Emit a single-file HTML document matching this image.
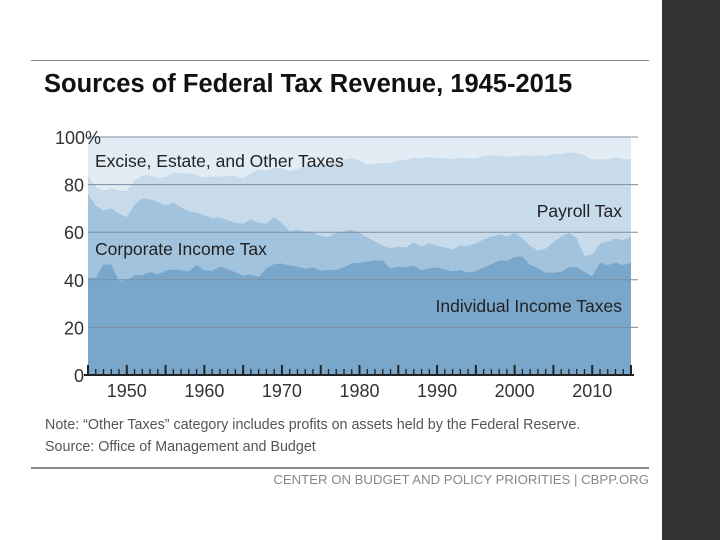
<!DOCTYPE html>
<html><head><meta charset="utf-8"><style>
body{margin:0;width:720px;height:540px;background:#fff;position:relative;overflow:hidden;font-family:"Liberation Sans",sans-serif}
.t{position:absolute;white-space:nowrap}
</style></head><body>
<div style="position:absolute;left:662px;top:0;width:58px;height:540px;background:#333"></div>
<div style="position:absolute;left:31px;top:60px;width:618px;height:1px;background:#888"></div>
<div class="t" style="left:44px;top:70px;font-size:25.5px;font-weight:bold;color:#111">Sources of Federal Tax Revenue, 1945-2015</div>
<svg id="chart" width="720" height="540" style="position:absolute;left:0;top:0"></svg>
<div class="t" style="left:45px;top:417px;font-size:14.3px;color:#555">Note: “Other Taxes” category includes profits on assets held by the Federal Reserve.</div>
<div class="t" style="left:45px;top:439px;font-size:14.3px;color:#555">Source: Office of Management and Budget</div>
<div style="position:absolute;left:31px;top:467px;width:618px;height:2px;background:#888"></div>
<div class="t" style="right:71px;top:472px;font-size:13.2px;color:#888">CENTER ON BUDGET AND POLICY PRIORITIES | CBPP.ORG</div>
<script>
const years=[];for(let y=1945;y<=2015;y++)years.push(y);
const individual=[40.7,41.0,46.6,46.5,39.5,39.9,41.9,42.2,43.4,42.4,43.9,44.5,44.1,43.6,46.4,44.0,43.8,45.7,44.7,43.2,41.8,42.4,41.3,44.9,46.7,46.9,46.1,45.7,44.7,45.2,43.9,44.2,44.3,45.3,47.0,47.2,47.7,48.2,48.1,44.8,45.6,45.4,46.0,44.1,45.0,45.2,44.4,43.6,44.2,43.1,43.7,45.2,46.7,48.1,48.1,49.6,49.9,46.3,44.9,43.0,43.1,43.4,45.3,45.4,43.5,41.5,47.4,46.2,47.4,46.2,47.4];
const corporate=[35.4,30.2,22.6,23.6,28.4,26.5,29.7,32.1,30.5,30.3,27.3,28.0,26.5,25.2,21.8,23.2,22.2,20.6,20.3,20.9,21.8,23.0,22.8,18.7,19.6,17.0,14.3,15.5,15.7,14.7,14.6,13.9,15.4,15.0,14.2,12.5,10.2,8.0,6.2,8.5,8.4,8.2,9.8,10.0,10.4,9.1,9.3,9.2,10.2,11.2,11.6,11.8,11.5,11.0,10.1,10.2,7.6,8.0,7.4,10.1,12.9,14.7,14.4,12.1,6.6,9.0,7.9,9.9,10.0,10.6,10.6];
const payroll=[7.6,7.9,8.4,8.4,9.6,11.0,10.0,9.7,9.9,10.3,12.0,12.5,14.2,15.8,15.9,15.9,17.4,17.1,18.6,19.5,19.1,19.5,22.3,22.2,20.9,23.0,25.3,25.4,27.3,28.5,30.3,30.5,29.9,30.3,30.0,30.5,30.5,32.6,34.8,35.9,36.1,36.9,35.5,36.8,36.3,36.8,37.5,37.9,37.1,36.7,35.8,35.0,34.1,33.2,33.5,32.2,34.9,37.8,40.0,39.0,36.9,34.8,33.9,35.7,42.3,40.0,35.5,34.5,34.2,33.9,32.8];
const yTicks=[0,20,40,60,80,100];
const xLabels=[1950,1960,1970,1980,1990,2000,2010];
const X=y=>88+(y-1945)*(631-88)/70;
const Y=v=>375-v*(375-137)/100;
const svg=document.getElementById('chart');const NS='http://www.w3.org/2000/svg';
function mk(t,a){const e=document.createElementNS(NS,t);for(const k in a)e.setAttribute(k,a[k]);svg.appendChild(e);return e;}
const c1=individual,c2=individual.map((v,i)=>v+corporate[i]),c3=c2.map((v,i)=>v+payroll[i]),c4=years.map(()=>100);
function band(lo,hi,fill,name){let d='M'+years.map((y,i)=>X(y)+','+Y(hi[i])).join('L');for(let i=years.length-1;i>=0;i--)d+='L'+X(years[i])+','+Y(lo?lo[i]:0);d+='Z';const p=mk('path',{d:d,fill:fill});

}
band(c3,c4,'#e2ecf5','area-other-taxes');
band(c2,c3,'#c8dbeb','area-payroll-tax');
band(c1,c2,'#a2c3dd','area-corporate-tax');
band(null,c1,'#79a7cc','area-individual-tax');
yTicks.forEach(v=>{if(v>0){const l=mk('line',{x1:88,x2:638,y1:Y(v),y2:Y(v),stroke:'#7a8fa3','stroke-width':1});

}
const t=mk('text',{x:84,y:Y(v)+7,'text-anchor':'end','font-size':18,fill:'#333','font-family':'Liberation Sans, sans-serif'});t.textContent=v===100?'100%':v;


if(v===100){t.setAttribute('x',55);t.setAttribute('text-anchor','start');}});
const ax=mk('line',{x1:84,x2:634,y1:375,y2:375,stroke:'#222','stroke-width':2});


years.forEach(y=>{const maj=y%5===0;const tk=mk('line',{x1:X(y),x2:X(y),y1:375,y2:maj?365:369,stroke:'#222','stroke-width':maj?2:1.3});

});
xLabels.forEach(y=>{const t=mk('text',{x:X(y),y:397,'text-anchor':'middle','font-size':18,fill:'#333','font-family':'Liberation Sans, sans-serif'});t.textContent=y;

});
[['Excise, Estate, and Other Taxes',95,167,'start','label-other-taxes'],['Payroll Tax',622,217,'end','label-payroll-tax'],['Corporate Income Tax',95,255,'start','label-corporate-tax'],['Individual Income Taxes',622,312,'end','label-individual-tax']].forEach(a=>{const t=mk('text',{x:a[1],y:a[2],'text-anchor':a[3],'font-size':17.5,fill:'#222','font-family':'Liberation Sans, sans-serif'});t.textContent=a[0];

});
</script>
</body></html>
